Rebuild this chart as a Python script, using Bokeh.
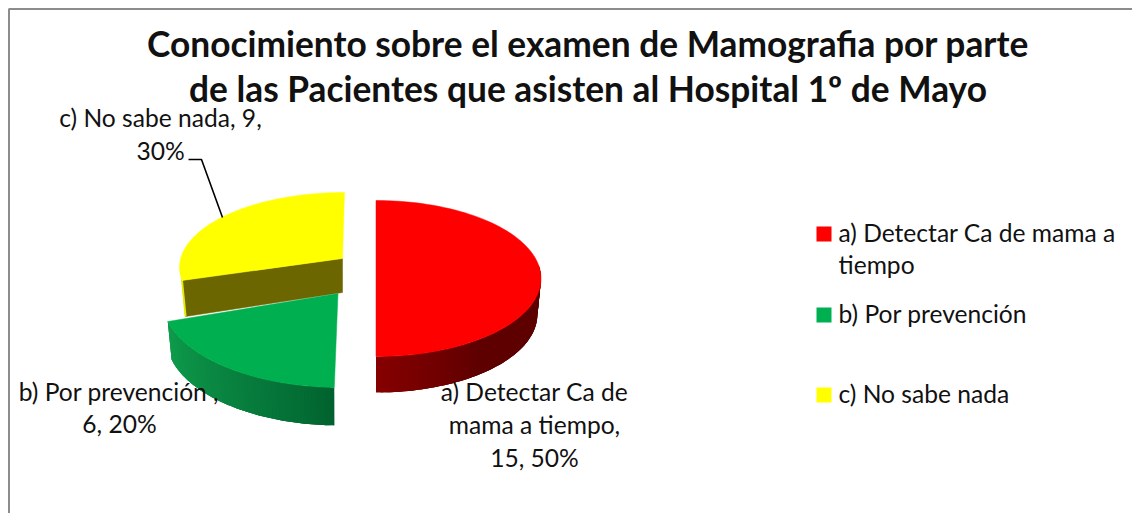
import numpy as np
from bokeh.plotting import figure
from bokeh.models import Range1d
from bokeh.core.properties import value
from bokeh.embed import file_html
from bokeh.resources import INLINE

# ---- data ----
categories = ["a) Detectar Ca de mama a tiempo", "b) Por prevención", "c) No sabe nada"]
counts = [15, 6, 9]
colors = ["#FF0000", "#00B050", "#FFFF00"]
title_lines = ["Conocimiento sobre el examen de Mamografia por parte",
               "de las Pacientes que asisten al Hospital 1º de Mayo"]
label_lines = [["a) Detectar Ca de", "mama a tiempo,", "15, 50%"],
               ["b) Por prevención ,", "6, 20%"],
               ["c) No sabe nada, 9,", "30%"]]
legend_lines = [["a) Detectar Ca de mama a", "tiempo"], ["b) Por prevención"], ["c) No sabe nada"]]

# ---- style: exploded-slice geometry ----
# apex x, apex y, rim centre x, rim centre y, rx, ry, depth, perspective angle shift at start/end
geom = [
    dict(ax=375.5, ay=278, cx=375.5, cy=278, rx=165, ry=78, d=36, s0=0, s1=0),
    dict(ax=337.5, ay=293, cx=340, cy=300, rx=178, ry=87, d=38, s0=2, s1=4),
    dict(ax=342, ay=258, cx=344, cy=267, rx=165, ry=75, d=36, s0=8, s1=0),
]
SHRINK = 0.022
FONT = "Lato"
TEXT = "#111111"

W, H = 1132, 513
p = figure(width=W, height=H, x_range=Range1d(0, W), y_range=Range1d(H, 0),
           output_backend="svg", toolbar_location=None, min_border=0)
p.axis.visible = False
p.grid.visible = False
p.outline_line_color = None
p.background_fill_color = "white"
p.border_fill_color = "white"

# chart frame (left and top only are in view)
p.line([8.5, 8.5, W], [H, 8.5, 8.5], line_color="#8C8C8C", line_width=2)


def rim(g, deg, a0, a1):
    """Rim point of slice at pie angle deg (clockwise from 12 o'clock)."""
    f = (deg - a0) / (a1 - a0)
    t = np.radians(deg + g["s0"] + (g["s1"] - g["s0"]) * f)
    return g["cx"] + g["rx"] * np.sin(t), g["cy"] - g["ry"] * np.cos(t)


def low(g, x, y):
    return x + SHRINK * (g["cx"] - x), y + g["d"]


def mix(c1, c2, f):
    a = [int(c1[i:i + 2], 16) for i in (1, 3, 5)]
    b = [int(c2[i:i + 2], 16) for i in (1, 3, 5)]
    return "#%02x%02x%02x" % tuple(round(x + (y - x) * f) for x, y in zip(a, b))


def wall(g, a0, a1, vis0, vis1, shade, n=60):
    angs = np.linspace(vis0, vis1, n + 1)
    for i in range(n):
        seg = angs[i:min(i + 4, n + 1)]
        top = [rim(g, a, a0, a1) for a in seg]
        bot = [low(g, *q) for q in top][::-1]
        c = shade((i + 0.5) / n)
        p.patch([q[0] for q in top + bot], [q[1] for q in top + bot], fill_color=c, line_color=None)


def face(g, a0, a1, color, n=90):
    xy = [rim(g, a, a0, a1) for a in np.linspace(a0, a1, n)]
    p.patch([g["ax"]] + [q[0] for q in xy], [g["ay"]] + [q[1] for q in xy],
            fill_color=color, line_color=color, line_width=0.5)


edges = np.concatenate([[0], np.cumsum(np.array(counts) / sum(counts))]) * 360

# yellow slice: cut face, thin outer wall, top
g = geom[2]
a0, a1 = edges[2], edges[3]
ex, ey = rim(g, a0, a0, a1)
lx, ly = low(g, ex, ey)
p.patch([g["ax"], ex, lx, g["ax"]], [g["ay"], ey, ly, g["ay"] + g["d"] - 2],
        fill_color="#6B6600", line_color="#6B6600", line_width=0.5)
p.patch([ex - 1, ex + 1, lx + 1, lx - 1], [ey - 2, ey, ly, ly],
        fill_color="#E8E800", line_color=None)
face(g, a0, a1, colors[2])

# green slice
g = geom[1]
a0, a1 = edges[1], edges[2]
wall(g, a0, a1, a0, a1, lambda f: mix("#00602E", "#0F9C4C", f ** 0.8))
face(g, a0, a1, colors[1])

# red slice
g = geom[0]
a0, a1 = edges[0], edges[1]
wall(g, a0, a1, a1, 80, lambda f: mix("#860000", "#5E0000", min(1, f / 0.4)))
face(g, a0, a1, colors[0])

# leader line
p.line([188, 201, 222], [159, 159, 217], line_color="black", line_width=1.6)

BASE = 0.36  # lift so the drawn baseline lands on the requested y


def txt(x, y, s, size, align="left", style="normal"):
    p.text([x], [y - BASE * size], text=[s], text_font=value(FONT), text_font_size=f"{size}px",
           text_color=TEXT, text_align=align, text_baseline="alphabetic", text_font_style=style)


# title
TS = 35.3
txt(587.5, 56, title_lines[0], TS, "center", "bold")
txt(587.5, 101, title_lines[1], TS, "center", "bold")

# data labels
LS = 24.6
txt(534, 400, label_lines[0][0], LS, "center")
txt(534, 433, label_lines[0][1], LS, "center")
txt(534, 466, label_lines[0][2], LS, "center")
txt(118.5, 400, label_lines[1][0], LS, "center")
txt(119, 432, label_lines[1][1], LS, "center")
txt(160, 126, label_lines[2][0], LS, "center")
txt(160, 159, label_lines[2][1], LS, "center")

# legend
sq_y = [233.5, 314.5, 394.5]
p.scatter([823.5] * 3, sq_y, marker="square", size=15, fill_color=colors, line_color=None)
txt(838, 241, legend_lines[0][0], LS)
txt(838, 273, legend_lines[0][1], LS)
txt(838, 322, legend_lines[1][0], LS)
txt(838, 402, legend_lines[2][0], LS)

open("out.html", "w").write(file_html(p, INLINE))
